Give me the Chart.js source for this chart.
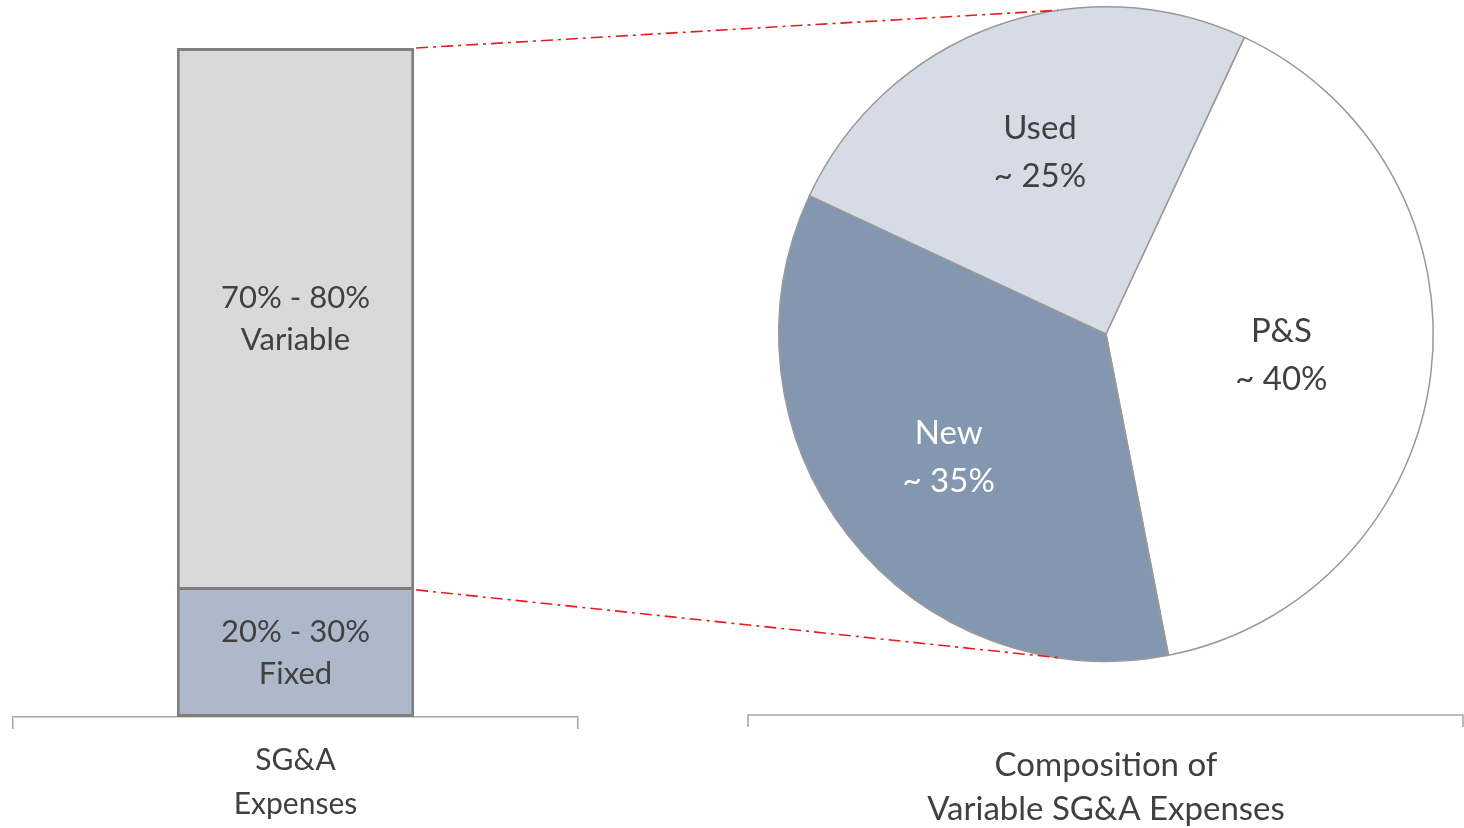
<!DOCTYPE html>
<html lang="en">
  <head>
    <meta charset="UTF-8" />
    <title>SG&amp;A Expenses</title>
    <script src="https://cdn.jsdelivr.net/npm/chart.js"></script>
    <style>
      body { margin: 0; background: #fff; overflow: hidden; }
      .wrap { position: relative; width: 1464px; height: 828px; overflow: hidden; }
      .wrap canvas { position: absolute; left: 0; top: 0; }
    </style>
  </head>
  <body>
    <div class="wrap">
      <canvas id="barChart" width="1464" height="844"></canvas>
      <canvas id="pieChart" width="1464" height="828"></canvas>
    </div>

    <script>
      // bar: one category, two stacked parts
      const barCategories = [["SG&A", "Expenses"]];
      const barSeries = ["Fixed", "Variable"];
      const barValues = [19, 81];
      const barLabels = [["20% - 30%", "Fixed"], ["70% - 80%", "Variable"]];
      const barColors = ["#ADB9CA", "#D9D9D9"];

      // pie: composition of the variable part
      const pieCategories = ["P&S", "New", "Used"];
      const pieValues = [40, 35, 25];
      const pieLabels = [["P&S", "~ 40%"], ["New", "~ 35%"], ["Used", "~ 25%"]];
      const pieColors = ["#FFFFFF", "#8497B0", "#D6DCE5"];
      const pieTextColors = ["#404040", "#FFFFFF", "#404040"];
      const pieTitle = ["Composition of", "Variable SG&A Expenses"];

      const FONT = "Lato, 'Open Sans', sans-serif";
      const TEXT = "#404040";
      const labelDist = [0.54, 0.61, 0.59]; // how far out each slice label sits

      const barLabelPlugin = {
        id: "barLabels",
        afterDatasetsDraw(chart) {
          const ctx = chart.ctx;
          ctx.save();
          ctx.font = "31px " + FONT;
          ctx.fillStyle = TEXT;
          ctx.textAlign = "center";
          ctx.textBaseline = "middle";
          chart.data.datasets.forEach((ds, i) => {
            const bar = chart.getDatasetMeta(i).data[0];
            const midY = (bar.y + bar.base) / 2;
            const lines = barLabels[i];
            lines.forEach((t, j) => {
              ctx.fillText(t, bar.x, midY + (j - (lines.length - 1) / 2) * 42);
            });
          });
          ctx.restore();
        },
      };

      const barChart = new Chart(document.getElementById("barChart"), {
        type: "bar",
        data: {
          labels: barCategories,
          datasets: barSeries.map((name, i) => ({
            label: name,
            data: [barValues[i]],
            backgroundColor: barColors[i],
            borderColor: "#7F7F7F",
            borderWidth: 3,
            borderSkipped: i === 0 ? "end" : false, // one shared line between parts
            barPercentage: 0.42,
            categoryPercentage: 1,
          })),
        },
        options: {
          responsive: false,
          animation: false,
          layout: { padding: { left: 13, right: 886, top: 48, bottom: 8 } },
          plugins: { legend: { display: false }, tooltip: { enabled: false } },
          scales: {
            x: {
              stacked: true,
              grid: {
                offset: true,
                drawOnChartArea: false,
                tickLength: 12,
                color: "#A6A6A6",
                lineWidth: 1.5,
              },
              border: { color: "#A6A6A6", width: 1.5 },
              ticks: {
                color: TEXT,
                font: { family: FONT, size: 30, lineHeight: 1.45 },
                padding: 10,
              },
            },
            y: { stacked: true, display: false, min: 0, max: 100 },
          },
        },
        plugins: [barLabelPlugin],
      });

      const pieExtrasPlugin = {
        id: "pieExtras",
        afterDatasetsDraw(chart) {
          const ctx = chart.ctx;
          const meta = chart.getDatasetMeta(0);
          const arc0 = meta.data[0];
          const cx = arc0.x, cy = arc0.y, r = arc0.outerRadius;

          // slice labels
          ctx.save();
          ctx.font = "33px " + FONT;
          ctx.textAlign = "center";
          ctx.textBaseline = "middle";
          meta.data.forEach((arc, i) => {
            const mid = (arc.startAngle + arc.endAngle) / 2;
            const lx = cx + Math.cos(mid) * r * labelDist[i];
            const ly = cy + Math.sin(mid) * r * labelDist[i];
            ctx.fillStyle = pieTextColors[i];
            pieLabels[i].forEach((t, j) => ctx.fillText(t, lx, ly + (j - 0.5) * 48));
          });
          ctx.restore();

          // axis-like bracket and title under the pie
          const axY = 715;
          ctx.save();
          ctx.strokeStyle = "#A6A6A6";
          ctx.lineWidth = 1.5;
          ctx.beginPath();
          ctx.moveTo(748, axY + 12);
          ctx.lineTo(748, axY);
          ctx.lineTo(1463, axY);
          ctx.lineTo(1463, axY + 12);
          ctx.stroke();
          ctx.fillStyle = TEXT;
          ctx.font = "33px " + FONT;
          ctx.textAlign = "center";
          ctx.textBaseline = "middle";
          pieTitle.forEach((t, j) => ctx.fillText(t, cx, 765 + j * 44));
          ctx.restore();

          // red connectors from the variable bar to the pie
          const bar = barChart.getDatasetMeta(1).data[0];
          const right = bar.x + bar.width / 2 + 2;
          const a = (8.5 * Math.PI) / 180;
          ctx.save();
          ctx.strokeStyle = "#E0201E";
          ctx.lineWidth = 1.6;
          ctx.setLineDash([12, 5, 3, 5]);
          ctx.beginPath();
          ctx.moveTo(right, bar.y);
          ctx.lineTo(cx - Math.sin(a) * r, cy - Math.cos(a) * r);
          ctx.moveTo(right, bar.base);
          ctx.lineTo(cx - Math.sin(a) * r, cy + Math.cos(a) * r);
          ctx.stroke();
          ctx.restore();
        },
      };

      new Chart(document.getElementById("pieChart"), {
        type: "pie",
        data: {
          labels: pieCategories,
          datasets: [
            {
              data: pieValues,
              backgroundColor: pieColors,
              borderColor: "#999999",
              borderWidth: 1.5,
            },
          ],
        },
        options: {
          responsive: false,
          animation: false,
          rotation: 25,
          layout: { padding: { left: 778, right: 30, top: 6, bottom: 166 } },
          plugins: { legend: { display: false }, tooltip: { enabled: false } },
        },
        plugins: [pieExtrasPlugin],
      });
    </script>
  </body>
</html>
